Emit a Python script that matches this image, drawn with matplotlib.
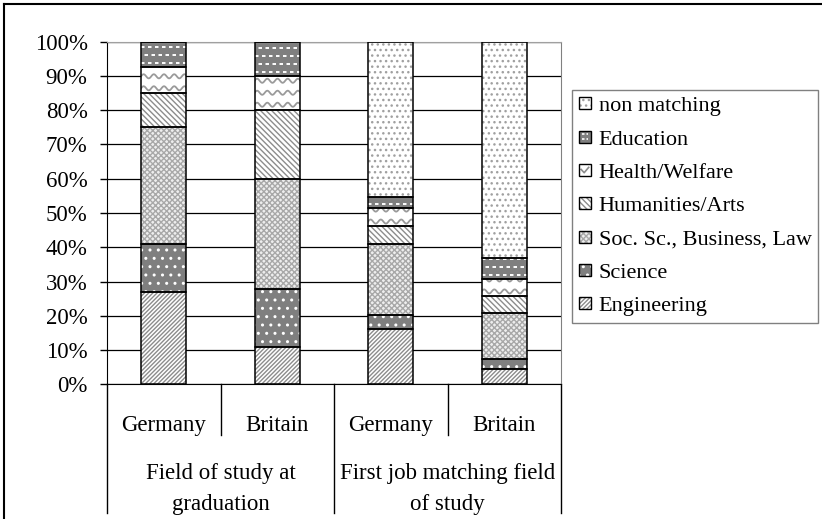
import matplotlib.pyplot as plt
import numpy as np
from matplotlib.patches import Rectangle, Patch
from matplotlib.lines import Line2D
from matplotlib.legend_handler import HandlerBase

plt.rcParams['font.family'] = ['Liberation Serif', 'DejaVu Serif']
plt.rcParams['font.size'] = 16.5
plt.rcParams['hatch.linewidth'] = 1.0

# data (percent of graduates)
countries = ['Germany', 'Britain', 'Germany', 'Britain']
groups = ['Field of study at\ngraduation', 'First job matching field\nof study']
fields = ['Engineering', 'Science', 'Soc. Sc., Business, Law',
          'Humanities/Arts', 'Health/Welfare', 'Education', 'non matching']

engineering = [26.8, 11.0, 16.0, 4.5]
science = [14.2, 16.9, 4.2, 2.8]
soc_sc = [34.2, 32.0, 20.8, 13.4]
humanities = [9.8, 20.3, 5.1, 5.0]
health = [7.6, 9.8, 5.3, 5.0]
education = [7.4, 10.0, 3.3, 6.1]
non_matching = [0.0, 0.0, 45.3, 63.2]

series = [engineering, science, soc_sc, humanities, health, education, non_matching]

# fill styles: face colour, hatch, hatch colour, extra drawn pattern
styles = [
    dict(face='white', hatch='////////', hc='#8c8c8c'),
    dict(face='#7f7f7f', hatch='..', hc='white'),
    dict(face='#eeeeee', hatch='xxxxxx', hc='#a8a8a8'),
    dict(face='white', hatch='\\' * 6, hc='#8c8c8c'),
    dict(face='white', extra='wave'),
    dict(face='#7f7f7f', extra='dash'),
    dict(face='white', hatch='...', hc='#a0a0a0'),
]


def add_waves(ax, bar):
    x0, y0 = bar.get_x(), bar.get_y()
    w, h = bar.get_width(), bar.get_height()
    xs = np.linspace(x0, x0 + w, 80)
    for yc in np.arange(y0 + 1.4, y0 + h + 3.5, 3.5):
        ln, = ax.plot(xs, yc + 0.6 * np.sin(2 * np.pi * (xs - x0) / 0.09),
                      color='#9a9a9a', lw=1.3, zorder=2.5)
        ln.set_clip_path(bar)


def add_dashes(ax, bar):
    x0, y0 = bar.get_x(), bar.get_y()
    w, h = bar.get_width(), bar.get_height()
    for i, yc in enumerate(np.arange(y0 + 1.1, y0 + h, 2.4)):
        ln, = ax.plot([x0, x0 + w], [yc, yc], color='white', lw=1.4,
                      linestyle=(1.8 * (i % 2), (1.8, 1.8)), zorder=2.5)
        ln.set_clip_path(bar)


class SwatchHandler(HandlerBase):
    def __init__(self, style):
        super().__init__()
        self.style = style

    def create_artists(self, legend, orig_handle, xdescent, ydescent,
                       width, height, fontsize, trans):
        s = self.style
        size = min(width, height)
        x0 = -xdescent + (width - size) / 2
        y0 = -ydescent + (height - size) / 2
        arts = [Rectangle((x0, y0), size, size, facecolor=s['face'],
                          hatch=s.get('hatch'), edgecolor=s.get('hc', 'none'),
                          lw=0, transform=trans)]
        if s.get('extra') == 'wave':
            arts.append(Line2D([x0 + 0.2 * size, x0 + 0.45 * size, x0 + 0.82 * size],
                               [y0 + 0.55 * size, y0 + 0.28 * size, y0 + 0.72 * size],
                               color='#8c8c8c', lw=1.2, transform=trans))
        elif s.get('extra') == 'dash':
            for fy in (0.3, 0.7):
                arts.append(Line2D([x0 + 0.25 * size, x0 + 0.75 * size],
                                   [y0 + fy * size] * 2, color='white', lw=1.2,
                                   linestyle=(0, (1.5, 1.2)), transform=trans))
        arts.append(Rectangle((x0, y0), size, size, fill=False,
                              edgecolor='black', lw=1, transform=trans))
        return arts


fig = plt.figure(figsize=(8.22, 5.19), dpi=100)
ax = fig.add_axes([107 / 822, 1 - 384.3 / 519, (561 - 107) / 822, (384.3 - 41.7) / 519])

x = np.arange(len(countries))
width = 0.4
bottom = np.zeros(len(countries))
for vals, st in zip(series, styles):
    bars = ax.bar(x, vals, width, bottom=bottom, color=st['face'],
                  hatch=st.get('hatch'), edgecolor=st.get('hc', 'none'),
                  linewidth=0, zorder=2)
    ax.bar(x, vals, width, bottom=bottom, fill=False, edgecolor='black',
           linewidth=1.1, zorder=3)
    for b in bars:
        if st.get('extra') == 'wave':
            add_waves(ax, b)
        elif st.get('extra') == 'dash':
            add_dashes(ax, b)
    bottom += np.array(vals)

ax.set_xlim(-0.5, 3.5)
ax.set_ylim(0, 100)
ax.set_yticks(np.arange(0, 101, 10))
ax.set_yticklabels(['%d%%' % v for v in range(0, 101, 10)])
ax.tick_params(axis='y', length=5, width=1, pad=9, color='black')
ax.set_xticks(x, countries)
ax.tick_params(axis='x', length=0, pad=22)
ax.yaxis.grid(True, color='black', lw=0.9)
ax.set_axisbelow(True)
for side in ('left', 'bottom'):
    ax.spines[side].set_color('black')
ax.spines['top'].set_color('#a0a0a0')
ax.spines['right'].set_color('#808080')

# category separators below the axis
tr = ax.get_xaxis_transform()
for xs in (-0.5, 1.5, 3.5):
    ax.plot([xs, xs], [0, -0.377], color='black', lw=1, transform=tr, clip_on=False)
for xs in (0.5, 2.5):
    ax.plot([xs, xs], [0, -0.149], color='black', lw=1, transform=tr, clip_on=False)
for gx, g in zip((0.5, 2.5), groups):
    ax.text(gx, -0.305, g, transform=tr, ha='center', va='center',
            multialignment='center', linespacing=1.65)

# legend, top entry first
handles, labels, hmap = [], [], {}
for name, st in reversed(list(zip(fields, styles))):
    h = Patch(label=name)
    handles.append(h)
    labels.append(name)
    hmap[h] = SwatchHandler(st)
leg = fig.legend(handles, labels, handler_map=hmap, loc='upper left',
                 bbox_to_anchor=(572 / 822, 1 - 90 / 519), bbox_transform=fig.transFigure,
                 frameon=True, fancybox=False, edgecolor='#808080', framealpha=1,
                 fontsize=16, borderpad=0.3, labelspacing=0.62, handlelength=0.55,
                 handleheight=0.55, handletextpad=0.35, borderaxespad=0)
leg.get_frame().set_linewidth(1.0)

# outer chart frame
fig.add_artist(Line2D([3.5 / 822, 3.5 / 822], [0, 1 - 4 / 519], color='black', lw=1.5,
                      transform=fig.transFigure))
fig.add_artist(Line2D([3.5 / 822, 1], [1 - 4 / 519, 1 - 4 / 519], color='black', lw=1.5,
                      transform=fig.transFigure))

fig.savefig('out.png', dpi=100)
